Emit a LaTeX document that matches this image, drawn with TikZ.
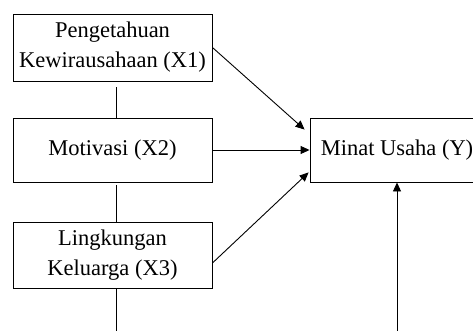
\documentclass[tikz,border=0pt]{standalone}
\usepackage{fontspec}
\setmainfont{Liberation Serif}
\usetikzlibrary{arrows.meta, positioning}

\begin{document}
\begin{tikzpicture}[x=1pt, y=-1pt,
    varbox/.style={draw, line width=0.9pt, minimum width=199pt, inner sep=1pt, align=center,
        font=\fontsize{22.5}{30}\selectfont},
    link/.style={line width=0.9pt},
    arr/.style={line width=0.9pt, -{Triangle[length=9pt, width=8pt]}}]
\useasboundingbox (0,0) rectangle (473,331);
% Variables
\node[varbox, minimum height=67pt] (x1) at (112.5,47.5) {Pengetahuan\\Kewirausahaan (X1)};
\node[varbox, minimum height=64pt] (x2) at (112.5,150) {Motivasi (X2)};
\node[varbox, minimum height=66pt] (x3) at (112.5,255) {Lingkungan\\Keluarga (X3)};
\node[varbox, minimum width=174pt, minimum height=64pt] (y) at (397,150) {Minat Usaha (Y)};
\coordinate (x3end) at (116,333);
\coordinate (yend) at (397,333);
% Correlation lines
\draw[link] ([xshift=3.5pt, yshift=-6pt]x1.south) -- ([xshift=3.5pt]x2.north);
\draw[link] ([xshift=3.5pt, yshift=-3pt]x2.south) -- ([xshift=3.5pt]x3.north);
\draw[link] ([xshift=3.5pt]x3.south) -- (x3end);
% Arrows
\draw[arr] (x1.east) -- ([xshift=-5pt, yshift=-12pt]y.north west);
\draw[arr] (x2.east) -- (y.west);
\draw[arr] ([yshift=-8pt]x3.east) -- ([xshift=-1pt, yshift=10pt]y.south west);
\draw[arr] (yend) -- (y.south);
\end{tikzpicture}
\end{document}
